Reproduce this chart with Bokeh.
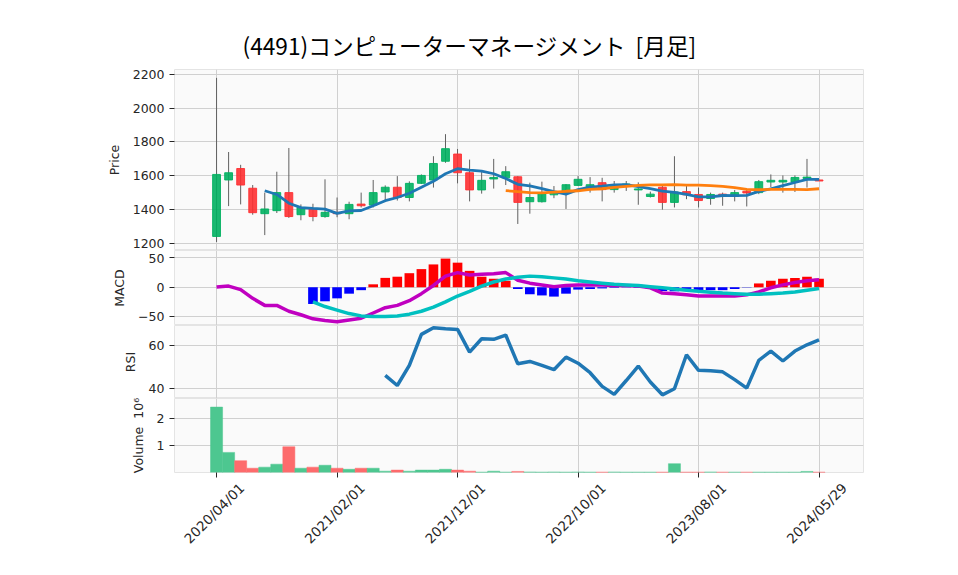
import math
from bokeh.plotting import figure
from bokeh.layouts import column
from bokeh.models import ColumnDataSource, Range1d, FixedTicker, LinearAxis
from bokeh.embed import file_html
from bokeh.resources import INLINE

title_text = "(4491)コンピューターマネージメント\u00a0\u00a0[月足]"
tick_pos = [0, 10, 20, 30, 40, 50]
tick_labels = ["2020/04/01", "2021/02/01", "2021/12/01", "2022/10/01", "2023/08/01", "2024/05/29"]

opens = [1239, 1574, 1642, 1525, 1374, 1392, 1499, 1368, 1402, 1357, 1382, 1374, 1431, 1425, 1503, 1531, 1470,
         1554, 1574, 1685, 1728, 1617, 1515, 1580, 1587, 1593, 1445, 1445, 1486, 1499, 1542, 1531, 1558, 1517,
         1544, 1515, 1476, 1531, 1441, 1505, 1488, 1464, 1490, 1476, 1507, 1499, 1562, 1562, 1562, 1583, 1574]
highs = [2180, 1740, 1664, 1544, 1499, 1623, 1764, 1429, 1433, 1578, 1470, 1445, 1499, 1574, 1542, 1597, 1566,
         1607, 1715, 1846, 1758, 1695, 1621, 1699, 1656, 1597, 1558, 1564, 1538, 1550, 1597, 1591, 1587, 1568,
         1568, 1560, 1505, 1538, 1715, 1538, 1529, 1499, 1499, 1515, 1515, 1574, 1607, 1601, 1601, 1699, 1576]
lows = [1206, 1419, 1429, 1368, 1247, 1378, 1349, 1335, 1329, 1350, 1353, 1341, 1411, 1411, 1450, 1452, 1447,
        1550, 1529, 1676, 1554, 1447, 1493, 1523, 1544, 1313, 1374, 1440, 1466, 1402, 1538, 1499, 1447, 1499,
        1509, 1427, 1470, 1398, 1411, 1460, 1411, 1427, 1421, 1447, 1417, 1490, 1531, 1499, 1503, 1529, 1568]
closes = [1607, 1617, 1544, 1380, 1402, 1499, 1357, 1411, 1357, 1382, 1374, 1429, 1421, 1499, 1531, 1470, 1554,
          1601, 1672, 1760, 1617, 1515, 1572, 1589, 1623, 1441, 1470, 1493, 1499, 1546, 1578, 1546, 1517, 1538,
          1550, 1521, 1490, 1441, 1503, 1486, 1452, 1488, 1480, 1499, 1497, 1564, 1572, 1572, 1589, 1591, 1568]
volumes = [2440000, 750000, 440000, 160000, 200000, 310000, 960000, 160000, 200000, 270000, 160000, 120000,
           160000, 160000, 50000, 90000, 50000, 90000, 90000, 120000, 90000, 50000, 15000, 50000, 15000, 40000,
           20000, 15000, 20000, 15000, 20000, 15000, 15000, 20000, 15000, 15000, 15000, 15000, 330000, 15000,
           15000, 20000, 15000, 15000, 15000, 15000, 15000, 15000, 15000, 40000, 15000]
ma5 = [None, None, None, None, 1510, 1488, 1436, 1410, 1405, 1401, 1376, 1391, 1393, 1421, 1451, 1470, 1495,
       1531, 1566, 1611, 1641, 1633, 1627, 1611, 1583, 1548, 1539, 1523, 1505, 1490, 1517, 1532, 1537, 1545,
       1546, 1534, 1523, 1508, 1501, 1488, 1474, 1474, 1482, 1481, 1483, 1506, 1522, 1541, 1559, 1578, 1578]
ma25 = [None] * 24 + [1511, 1505, 1499, 1497, 1502, 1507, 1510, 1518, 1522, 1530, 1536, 1542, 1545, 1545, 1546,
                      1544, 1543, 1540, 1536, 1529, 1518, 1516, 1518, 1518, 1518, 1517, 1522]
macd = [0.5, 2, -4, -19, -31, -31, -41, -47, -54, -57, -59, -56, -53, -44, -35, -31, -23, -11, 3, 19, 25, 21, 22,
        23, 25, 12, 7, 4, 1, 3, 4, 4, 4, 3, 3, 2, -1, -10, -11, -13, -15, -15, -15, -15, -13, -8, -1, 4, 8, 11, 13]
signal = [None] * 8 + [-25, -33, -39, -45, -49, -50, -50, -49, -46, -41, -34, -25, -15, -7, 2, 9, 14, 17, 19, 18,
                       16, 14, 11, 9, 7, 5, 4, 3, 1, -1, -3, -5, -7, -8.5, -10, -11, -12, -12, -11, -10, -8, -5, -2]
hist = [None] * 8 + [-28.6, -24, -19, -11, -5, 5, 16, 18, 24, 31, 39, 49, 42, 28, 18, 14.5, 11, -3, -12, -14, -16,
                     -11, -4, -3, -2, -1, -0.5, -1, -2, -6.5, -7, -5, -8, -5, -5, -3, -0.5, 6.5, 11, 14.5, 16, 18,
                     14.5]
rsi = [None] * 14 + [46.2, 41.5, 50.8, 65.1, 68.2, 67.7, 67.4, 56.9, 63.1, 62.8, 64.8, 51.5, 52.6, 50.8, 48.8,
                     54.6, 51.8, 47.4, 41.1, 37.4, 43.8, 50.5, 43.1, 37.2, 40.0, 55.7, 48.5, 48.3, 47.8, 44.2, 40.3,
                     53.1, 57.4, 52.8, 57.4, 60.3, 62.6]

NAN = float("nan")
def nz(a):
    return [NAN if v is None else v for v in a]

n = len(opens)
xs = list(range(n))
UP, DOWN = "#00b060", "#fe3032"
VUP, VDOWN = "#4dc790", "#fd6b6c"
up = [c >= o for o, c in zip(opens, closes)]

src = ColumnDataSource(dict(
    x=xs, o=opens, h=highs, l=lows, c=closes,
    top=[max(o, c) for o, c in zip(opens, closes)],
    bot=[min(o, c) for o, c in zip(opens, closes)],
    col=[UP if u else DOWN for u in up],
    vol=volumes, vcol=[VUP if u else VDOWN for u in up],
    ma5=nz(ma5), ma25=nz(ma25), macd=macd, sig=nz(signal),
    hist=nz(hist), hcol=["#ff0000" if (v is not None and v >= 0) else "#0000ff" for v in hist],
    rsi=nz(rsi),
))

X0, X1 = -3.49, 53.69
xr = Range1d(X0, X1)
FONT = "DejaVu Sans"
TXT = "#262626"
GRID = "#d0d0d0"

def make_fig(height, yr, top=0, bottom=0):
    p = figure(width=942, height=height, x_range=xr, y_range=yr, output_backend="svg",
               toolbar_location=None, min_border_left=174, min_border_right=79,
               min_border_top=top, min_border_bottom=bottom,
               background_fill_color="#fafafa", border_fill_color="white",
               outline_line_color="#e4e4e4")
    p.xgrid.ticker = FixedTicker(ticks=tick_pos)
    p.grid.grid_line_color = GRID
    p.grid.grid_line_width = 1
    ya = p.yaxis[0]
    ya.axis_line_color = None
    ya.major_tick_line_color = TXT
    ya.major_tick_out = 5
    ya.major_tick_in = 0
    ya.minor_tick_line_color = None
    ya.major_label_text_font = FONT
    ya.major_label_text_font_size = "12.5px"
    ya.major_label_text_color = TXT
    ya.axis_label_text_font = FONT
    ya.axis_label_text_font_size = "12.5px"
    ya.axis_label_text_font_style = "normal"
    ya.axis_label_text_color = TXT
    ya.axis_label_standoff = 8
    ya.major_label_standoff = 5
    return p

# Price panel
p1 = make_fig(250, Range1d(1155.5, 2229.7), top=69)
p1.title.text = title_text
p1.title.align = "left"
p1.title.offset = 68
p1.title.standoff = 16
p1.title.text_font = "Noto Sans CJK JP"
p1.title.text_font_size = "22.7px"
p1.title.text_font_style = "normal"
p1.title.text_color = "black"
p1.xaxis.visible = False
p1.yaxis.ticker = FixedTicker(ticks=[1200, 1400, 1600, 1800, 2000, 2200])
p1.yaxis.axis_label = "Price"
p1.segment(x0="x", y0="l", x1="x", y1="h", color="#606060", line_width=1, source=src)
p1.vbar(x="x", top="top", bottom="bot", width=0.65, fill_color="col", line_color="col",
        line_width=1, fill_alpha=0.9, line_alpha=0.9, source=src)
p1.line("x", "ma5", color="#1f77b4", line_width=2.8, source=src)
p1.line("x", "ma25", color="#ff7f0e", line_width=2.8, source=src)

# MACD panel
p2 = make_fig(75, Range1d(-65.4, 62.8))
p2.xaxis.visible = False
p2.yaxis.ticker = FixedTicker(ticks=[-50, 0, 50])
p2.yaxis.major_label_overrides = {-50: "\u221250", 0: "0", 50: "50"}
p2.yaxis.axis_label = "MACD"
p2.vbar(x="x", top="hist", bottom=0, width=0.8, fill_color="hcol", line_color=None, source=src)
p2.line("x", "macd", color="#c000c0", line_width=3.5, source=src)
p2.line("x", "sig", color="#00c0c0", line_width=3.5, source=src)

# RSI panel
p3 = make_fig(73, Range1d(35.5, 69.2))
p3.xaxis.visible = False
p3.yaxis.ticker = FixedTicker(ticks=[40, 60])
p3.yaxis.axis_label = "RSI"
p3.line("x", "rsi", color="#1f77b4", line_width=3.5, source=src)

# Volume panel
VTOP = 2.76e6
p4 = make_fig(175, Range1d(0, VTOP), bottom=101)
p4.yaxis.ticker = FixedTicker(ticks=[1000000, 2000000])
p4.yaxis.major_label_overrides = {1000000: "1", 2000000: "2"}
p4.yaxis.axis_label = "Volume\u00a0\u00a010\u2076"
p4.vbar(x="x", top="vol", bottom=0, width=1.0, fill_color="vcol", line_color="vcol", line_width=0.5,
        source=src)
xa = p4.xaxis[0]
xa.ticker = FixedTicker(ticks=tick_pos)
xa.major_label_overrides = {t: "" for t in tick_pos}
xa.major_label_standoff = 0
xa.axis_line_color = None
xa.major_tick_line_color = TXT
xa.major_tick_out = 5
xa.major_tick_in = 0
xa.minor_tick_line_color = None

# second, label-only axis on a range shifted so that rotated labels sit centred under the ticks
SHIFT = 2.1
p4.extra_x_ranges = {"lab": Range1d(X0 - SHIFT, X1 - SHIFT)}
la = LinearAxis(x_range_name="lab", ticker=FixedTicker(ticks=tick_pos))
la.major_label_overrides = {t: s for t, s in zip(tick_pos, tick_labels)}
la.major_label_orientation = math.pi / 4
la.axis_line_color = None
la.major_tick_line_color = None
la.major_tick_out = 0
la.major_tick_in = 0
la.minor_tick_line_color = None
la.major_label_standoff = 8
la.major_label_text_font = FONT
la.major_label_text_font_size = "13.6px"
la.major_label_text_color = TXT
p4.add_layout(la, "below")

layout = column(p1, p2, p3, p4, spacing=0)
open("out.html", "w").write(file_html(layout, INLINE))
